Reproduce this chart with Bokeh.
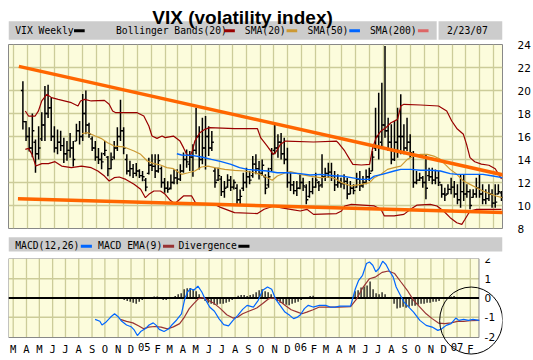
import pandas as pd
from bokeh.plotting import figure
from bokeh.models import Range1d, FixedTicker, ColumnDataSource, Grid
from bokeh.layouts import column
from bokeh.embed import file_html
from bokeh.resources import INLINE
from bokeh.core.properties import value

# ---------------- data ----------------
TITLE = "VIX (volatility index)"
DATE_LABEL = "2/23/07"
axis_origin = "2004-03-01"
first_week = "2004-03-22"

month_labels = ["M", "A", "M", "J", "J", "A", "S", "O", "N", "D", "05", "F",
                "M", "A", "M", "J", "J", "A", "S", "O", "N", "D", "06", "F",
                "M", "A", "M", "J", "J", "A", "S", "O", "N", "D", "07", "F"]
price_ticks = [8, 10, 12, 14, 16, 18, 20, 22, 24]
macd_ticks = [-2, -1, 0, 1, 2]
macd_grid = [-1, 1]

price_legend = ["VIX Weekly", "Bollinger Bands(20)", "SMA(20)", "SMA(50)", "SMA(200)"]
price_legend_colors = ["#000000", "#990000", "#CC9933", "#0066FF", "#DD6666"]
macd_legend = ["MACD(12,26)", "MACD EMA(9)", "Divergence"]
macd_legend_colors = ["#0066FF", "#993333", "#000000"]

highs = [20.8, 17.35, 16.8, 18.0, 15.75, 16.9, 18.1, 20.4, 20.5, 19.4,
         16.9, 16.6, 16.5, 15.9, 15.6, 16.3, 15.6, 17.1, 17.35, 19.7,
         20.0, 17.2, 16.0, 15.6, 15.0, 14.6, 15.6, 14.3, 14.6, 15.6,
         16.8, 19.2, 16.8, 14.45, 13.9, 13.6, 13.7, 13.15, 13.0, 12.4,
         14.15, 14.45, 14.45, 14.45, 13.4, 12.4, 12.1, 12.7, 13.15, 13.15,
         13.58, 14.6, 14.88, 14.74, 15.32, 18.5, 16.9, 17.64, 17.78, 16.9,
         16.48, 13.29, 13.29, 12.56, 12.13, 12.71, 12.56, 12.27, 11.84, 11.4,
         12.85, 13.29, 13.0, 14.3, 14.45, 13.87, 14.01, 12.71, 13.29, 15.0,
         17.06, 16.19, 16.3, 15.9, 15.03, 12.85, 12.13, 12.13, 12.71, 12.42,
         11.84, 12.13, 12.42, 12.85, 12.13, 14.45, 13.29, 13.72, 13.72, 13.0,
         12.71, 12.42, 12.71, 12.42, 12.13, 11.84, 12.85, 13.0, 12.56, 13.14,
         13.29, 14.74, 18.5, 19.81, 20.68, 23.87, 17.64, 17.06, 17.35, 18.5,
         19.67, 17.06, 17.64, 16.19, 14.74, 13.0, 12.85, 12.56, 14.45, 13.29,
         13.29, 13.14, 13.0, 11.84, 11.55, 11.84, 12.42, 12.13, 11.84, 12.71,
         12.71, 11.84, 11.41, 11.41, 12.42, 12.71, 11.84, 11.41, 11.84, 11.41,
         11.84, 11.84, 11.26]
lows = [16.6, 15.6, 14.7, 14.2, 12.85, 14.0, 15.6, 15.6, 17.6, 15.6,
        14.6, 14.45, 14.75, 13.7, 13.9, 14.15, 13.4, 15.6, 15.3, 15.6,
        16.2, 15.9, 14.75, 13.9, 13.6, 13.15, 14.3, 12.55, 13.15, 14.0,
        14.75, 15.6, 14.45, 12.7, 12.55, 12.4, 12.55, 12.4, 12.1, 11.25,
        12.7, 13.0, 12.4, 12.85, 11.55, 11.1, 11.1, 11.4, 11.85, 11.84,
        12.13, 12.85, 13.29, 13.0, 12.5, 14.45, 13.14, 13.58, 13.14, 14.3,
        14.74, 11.55, 12.13, 10.83, 10.68, 11.55, 11.26, 11.4, 9.96, 10.1,
        11.26, 11.55, 11.84, 12.42, 12.71, 12.27, 12.56, 10.97, 11.55, 13.0,
        14.45, 14.16, 14.0, 13.58, 11.55, 11.26, 10.97, 10.83, 11.41, 11.26,
        10.1, 10.68, 10.97, 11.55, 11.26, 11.55, 12.13, 12.42, 12.13, 11.26,
        11.55, 11.55, 11.41, 10.54, 10.97, 10.97, 11.55, 11.26, 11.55, 11.84,
        12.13, 13.0, 14.74, 14.01, 15.03, 15.9, 14.74, 13.58, 13.87, 14.16,
        14.45, 14.45, 14.74, 14.16, 11.55, 11.84, 12.13, 11.55, 10.54, 12.13,
        11.84, 11.84, 11.7, 10.68, 10.39, 10.97, 10.97, 10.68, 10.1, 9.81,
        10.39, 10.68, 9.67, 10.68, 10.68, 10.68, 10.1, 10.1, 10.39, 9.81,
        9.81, 10.97, 10.39]
opens = [20.0, 17.3, 16.0, 15.0, 15.5, 14.5, 15.8, 17.0, 18.0, 18.5,
         16.0, 15.0, 15.5, 15.2, 14.5, 14.8, 15.0, 15.6, 16.5, 16.0,
         18.0, 17.0, 15.8, 15.0, 14.2, 14.0, 14.5, 14.2, 13.2, 14.2,
         15.0, 16.0, 16.5, 14.0, 13.0, 13.2, 12.8, 13.0, 12.6, 12.2,
         12.8, 13.5, 13.4, 13.0, 13.2, 12.0, 11.5, 11.5, 12.0, 12.4,
         12.3, 13.0, 14.0, 13.6, 14.2, 14.8, 16.0, 14.0, 15.0, 16.0,
         15.0, 13.0, 12.2, 12.3, 11.2, 11.6, 12.2, 11.6, 11.5, 10.5,
         11.5, 12.0, 12.5, 12.6, 13.6, 13.2, 12.8, 12.5, 11.8, 13.2,
         14.8, 15.0, 15.5, 14.5, 14.0, 12.0, 11.8, 11.3, 11.5, 12.0,
         11.6, 10.8, 11.2, 11.6, 12.0, 11.8, 12.5, 12.8, 12.9, 12.6,
         11.8, 12.0, 11.9, 12.1, 11.0, 11.5, 11.6, 12.3, 11.7, 12.0,
         12.5, 13.0, 15.0, 16.0, 15.5, 17.0, 16.5, 15.5, 14.0, 15.5,
         16.0, 16.0, 15.0, 15.5, 14.5, 12.0, 12.2, 12.4, 12.0, 12.6,
         12.5, 12.2, 12.4, 11.8, 11.0, 11.0, 11.4, 11.6, 11.0, 10.5,
         11.2, 11.0, 11.2, 10.7, 11.0, 11.5, 11.0, 10.5, 10.6, 11.0,
         10.2, 11.0, 11.1]
closes = [17.3, 16.0, 15.0, 16.5, 14.5, 15.0, 17.0, 18.0, 18.5, 16.0,
          15.0, 15.5, 15.2, 14.5, 14.8, 15.0, 14.0, 16.5, 16.0, 18.0,
          17.0, 16.2, 15.0, 14.2, 14.0, 13.8, 14.8, 13.2, 14.0, 15.0,
          16.0, 16.5, 15.0, 13.0, 13.2, 12.8, 13.0, 12.6, 12.5, 11.6,
          13.5, 13.4, 13.0, 13.9, 12.0, 11.5, 11.4, 12.0, 12.4, 12.3,
          13.0, 14.0, 13.8, 14.2, 14.8, 16.0, 14.0, 15.0, 16.0, 15.0,
          15.5, 12.0, 12.6, 11.2, 11.5, 12.2, 11.6, 12.0, 10.5, 10.8,
          12.0, 12.5, 12.2, 13.6, 13.2, 12.8, 13.5, 11.5, 12.5, 14.5,
          15.0, 15.5, 14.5, 14.0, 12.0, 11.8, 11.3, 11.5, 12.0, 11.7,
          10.5, 11.2, 11.6, 12.2, 11.7, 12.5, 12.8, 12.9, 12.6, 11.8,
          12.0, 11.9, 12.1, 11.0, 11.5, 11.3, 12.3, 11.7, 12.0, 12.5,
          12.8, 14.2, 16.0, 15.0, 17.0, 16.5, 15.5, 14.0, 15.5, 16.0,
          16.0, 15.0, 15.5, 14.6, 12.0, 12.2, 12.4, 12.0, 11.5, 12.5,
          12.2, 12.4, 12.0, 11.0, 10.9, 11.4, 11.6, 11.0, 10.5, 11.2,
          11.0, 11.2, 10.0, 11.0, 11.5, 11.0, 10.5, 10.6, 11.0, 10.2,
          10.3, 11.2, 10.7]

# indicator lines, read at week positions (week 0 = first bar)
bb_up_wk = [0.77, 1.8, 3.9, 4.9, 6.0, 7.6, 9.1, 11.2, 15.4, 17.5, 18.3, 19.6, 21.7, 25.9, 27.4, 28.5,
            29.5, 36.3, 38.4, 40.0, 41.0, 42.6, 44.2, 45.2, 47.8, 49.9, 51.0, 52.0, 53.1, 53.8, 54.6,
            56.2, 57.8, 59.3, 67.2, 74.5, 75.5, 77.6, 79.5, 80.2, 81.8, 83.4, 92.3, 99.6, 100.1, 102.2,
            103.8, 104.8, 107.5, 110.1, 111.1, 112.2, 113.7, 115.3, 116.9, 119.0, 120.0, 121.0, 126.3,
            132.0, 134.6, 136.2, 137.8, 139.9, 140.9, 142.0, 143.5, 145.6, 148.0, 150.0, 152.0]
bb_up_val = [18.22, 17.78, 17.78, 18.20, 19.10, 19.67, 19.38, 19.23, 18.94, 18.65, 19.09, 19.23, 19.09,
             19.14, 18.80, 18.22, 18.07, 18.07, 17.78, 16.91, 16.04, 15.84, 16.04, 15.90, 16.04, 15.60,
             15.03, 14.45, 14.30, 14.74, 15.60, 16.33, 16.62, 16.77, 16.68, 16.68, 15.90, 15.17, 14.45,
             14.59, 15.32, 15.60, 15.52, 15.60, 15.46, 14.74, 14.01, 13.58, 13.52, 13.58, 15.03, 15.90,
             16.48, 16.77, 17.20, 17.49, 18.65, 18.80, 18.74, 18.65, 18.22, 17.35, 16.70, 16.19, 15.32,
             14.16, 13.80, 13.60, 13.50, 13.20, 12.30]
bb_lo_wk = [0.77, 1.8, 2.9, 4.1, 6.0, 8.1, 10.2, 12.3, 15.4, 18.6, 21.7, 23.8, 25.9, 27.4, 29.0, 30.6,
            32.7, 35.3, 37.4, 38.9, 40.0, 41.6, 43.7, 45.2, 46.8, 47.8, 48.4, 51.0, 53.6, 55.1, 60.9,
            63.0, 67.2, 74.5, 76.6, 79.7, 81.8, 85.0, 88.1, 90.2, 92.3, 99.6, 101.2, 102.2, 104.3, 111.6,
            113.7, 114.8, 117.9, 121.0, 123.1, 125.2, 129.4, 131.5, 133.6, 135.7, 137.8, 139.4, 140.4,
            142.0, 144.1, 152.0]
bb_lo_val = [14.88, 14.97, 14.45, 13.43, 13.64, 13.64, 13.81, 13.43, 13.29, 13.43, 13.29, 13.00, 12.56,
             12.13, 12.42, 12.48, 12.27, 11.84, 11.41, 10.68, 10.97, 11.26, 11.26, 10.97, 10.45, 10.25,
             10.20, 10.83, 10.83, 10.10, 10.10, 9.81, 9.38, 9.30, 9.67, 9.96, 9.81, 9.67, 9.52, 9.67,
             9.23, 9.30, 9.52, 9.96, 10.10, 9.96, 9.67, 9.09, 9.09, 9.23, 9.67, 10.04, 10.10, 9.96, 9.52,
             8.94, 8.50, 8.36, 8.80, 9.52, 9.67, 9.67]
sma20_wk = [18.8, 20.6, 23.0, 24.8, 26.9, 29.0, 32.1, 35.3, 37.4, 39.5, 41.6, 43.7, 45.7, 47.8, 50.4,
            52.5, 54.6, 56.7, 58.8, 60.9, 64.1, 67.2, 70.3, 73.5, 75.5, 77.6, 79.2, 80.8, 83.4, 85.0,
            88.1, 91.2, 94.4, 97.5, 99.6, 101.2, 104.3, 107.5, 110.1, 111.6, 113.7, 115.8, 117.9, 120.0,
            122.1, 124.2, 126.3, 128.4, 130.5, 132.6, 134.1, 135.7, 137.8, 139.9, 142.0, 144.1, 146.1,
            148.2, 150.3, 152.2]
sma20_val = [16.25, 16.33, 16.04, 15.84, 15.46, 15.17, 15.09, 14.74, 14.45, 13.87, 13.64, 13.52, 13.29,
             13.20, 12.71, 12.85, 13.00, 13.35, 13.43, 13.29, 13.14, 13.06, 13.00, 12.85, 12.71, 12.42,
             12.19, 12.56, 12.85, 12.94, 12.71, 12.56, 12.42, 12.48, 12.27, 11.99, 11.70, 11.84, 11.99,
             12.42, 12.71, 13.14, 13.29, 13.43, 14.01, 14.30, 14.45, 14.45, 14.30, 14.01, 13.58, 13.14,
             12.71, 12.13, 11.84, 11.55, 11.26, 11.03, 10.83, 10.68]
sma50_wk = [48.9, 50.4, 53.6, 56.7, 59.9, 63.0, 66.1, 68.8, 71.3, 74.5, 77.6, 80.8, 83.9, 88.1, 91.2,
            94.4, 99.6, 101.2, 104.3, 107.5, 110.1, 111.6, 114.1, 117.9, 120.0, 123.1, 126.3, 129.4,
            132.6, 135.7, 137.8, 146.1, 149.3, 152.2]
sma50_val = [14.50, 14.39, 14.36, 14.22, 14.01, 13.81, 13.58, 13.29, 13.14, 13.06, 13.00, 12.85, 12.85,
             12.77, 12.65, 12.71, 12.56, 12.56, 12.42, 12.27, 12.27, 12.56, 12.71, 13.00, 13.14, 13.14,
             13.06, 13.06, 13.00, 12.77, 12.71, 12.71, 12.56, 12.42]

# hand-drawn trendlines (dates, values)
trend_hi_dates = ["2004-03-13", "2007-03-03"]
trend_hi_vals = [22.1, 12.59]
trend_lo_dates = ["2004-03-11", "2007-03-04"]
trend_lo_vals = [10.59, 9.37]

macd_wk = [24.3, 25.9, 26.6, 28.0, 29.5, 30.8, 32.1, 33.2, 34.8, 36.3, 37.4, 38.4, 39.5, 41.0, 42.3,
           43.7, 44.7, 45.7, 47.3, 48.9, 49.9, 51.5, 53.1, 54.1, 55.1, 56.2, 57.2, 58.6, 59.9, 60.9,
           62.5, 64.1, 65.6, 67.2, 68.8, 70.3, 71.9, 73.5, 75.0, 77.1, 78.7, 80.2, 81.8, 83.2, 84.4,
           86.0, 87.6, 89.2, 90.5, 91.8, 92.8, 94.1, 95.4, 97.0, 99.1, 101.2, 102.7, 104.3, 105.9,
           109.5, 111.1, 112.2, 113.5, 114.8, 115.8, 116.9, 117.9, 119.0, 120.2, 121.3, 122.3, 123.7,
           124.7, 126.1, 127.3, 128.9, 130.5, 132.6, 134.7, 136.7, 138.6, 139.9, 141.4, 143.0, 144.6,
           145.6, 147.2, 148.8, 150.3, 152.4]
macd_val = [-1.11, -1.21, -1.40, -1.24, -0.99, -0.82, -0.99, -1.21, -1.40, -1.49, -1.67, -1.95, -1.74,
            -1.60, -1.40, -1.29, -1.42, -1.63, -1.74, -1.60, -1.40, -1.14, -0.82, -0.12, 0.31, 0.48,
            0.40, 0.62, 0.31, -0.03, -0.47, -0.69, -1.07, -1.38, -1.45, -1.16, -0.90, -0.59, -0.38,
            -0.47, -0.12, 0.40, 0.57, 0.45, -0.03, -0.38, -0.73, -0.90, -1.07, -0.99, -0.87, -0.55,
            -0.38, -0.47, -0.38, -0.38, -0.47, -0.47, -0.42, -0.42, 0.48, 0.92, 1.18, 1.79, 1.87, 1.70,
            1.36, 1.53, 1.91, 1.74, 1.44, 1.10, 0.57, 0.14, -0.21, -0.47, -0.73, -1.16, -1.42, -1.51,
            -1.68, -1.60, -1.42, -1.33, -1.04, -1.16, -1.11, -1.16, -1.11, -1.16]
sig_wk = [32.7, 34.8, 36.9, 38.9, 40.5, 42.1, 44.2, 46.3, 48.4, 50.4, 52.5, 54.1, 55.7, 57.2, 58.8,
          60.4, 62.0, 64.1, 66.1, 68.2, 70.3, 71.9, 73.5, 75.5, 78.2, 80.2, 82.3, 83.9, 85.5, 87.6,
          89.7, 91.8, 93.3, 94.9, 97.0, 99.1, 102.2, 105.4, 109.5, 111.6, 113.7, 115.8, 117.9, 120.0,
          122.1, 124.2, 126.3, 128.4, 130.5, 132.6, 134.7, 136.7, 138.8, 140.9, 143.0, 145.1, 147.2,
          149.3, 152.4]
sig_val = [-1.11, -1.21, -1.29, -1.45, -1.60, -1.51, -1.48, -1.51, -1.60, -1.50, -1.33, -0.99, -0.55,
           -0.29, -0.03, 0.02, -0.12, -0.29, -0.55, -0.87, -1.04, -0.99, -0.82, -0.69, -0.52, -0.29,
           -0.03, 0.00, -0.12, -0.38, -0.61, -0.73, -0.82, -0.73, -0.61, -0.47, -0.47, -0.47, -0.45,
           -0.03, 0.57, 1.00, 1.10, 1.33, 1.40, 1.27, 0.83, 0.40, -0.12, -0.47, -0.82, -1.07, -1.30,
           -1.33, -1.29, -1.21, -1.21, -1.18, -1.16]
hist_first_week = 33
hist_val = [-0.05, -0.10, -0.15, -0.20, -0.25, -0.30, -0.20, -0.10, -0.05, -0.05,
            0.05, 0.08, 0.08,
            -0.05, -0.10, -0.10, -0.05, -0.02,
            0.10, 0.20, 0.25, 0.45, 0.50, 0.52, 0.45, 0.35, 0.20, 0.05,
            -0.15, -0.25, -0.30, -0.35, -0.35, -0.30, -0.30, -0.25, -0.20, -0.10,
            0.05, 0.12, 0.15, 0.15, 0.10,
            0.15, 0.20, 0.30, 0.40, 0.45, 0.35, 0.30, 0.20, 0.05,
            -0.15, -0.25, -0.30, -0.35, -0.38, -0.30, -0.25, -0.20, -0.10, -0.05,
            0.05, 0.10, 0.12,
            0.05, 0.05, 0.03, 0.02, 0.02, 0.02, 0.00, 0.00, 0.02, 0.02, 0.03, 0.03,
            0.05, 0.35, 0.40, 0.55, 0.60, 0.65, 0.85, 0.45, 0.25, 0.20, 0.30, 0.20, 0.05, 0.00,
            -0.30, -0.55, -0.50, -0.45, -0.50, -0.45, -0.40, -0.40, -0.35, -0.30, -0.30, -0.25,
            -0.25, -0.20, -0.20, -0.15,
            -0.05, 0.00, 0.05, 0.08, 0.10, 0.05, 0.03, 0.05, 0.02, 0.04, 0.03, 0.02, 0.00]

# hand-drawn circle note on the MACD panel (centre date, centre value, radius in px)
note_date = "2007-02-03"
note_value = -1.17
note_radius_px = 33.5

# ---------------- helpers ----------------
origin = pd.Timestamp(axis_origin)
week0 = (pd.Timestamp(first_week) - origin).days


def wday(weeks):
    return [week0 + 7.0 * float(w) for w in weeks]


def dday(dates):
    return [(pd.Timestamp(d) - origin).days for d in dates]


month_starts = pd.date_range(axis_origin, periods=len(month_labels), freq="MS")
tick_days = [int((m - origin).days) for m in month_starts]

MONO = "DejaVu Sans Mono"
GRID = "#CCCC99"
FRAME_BG = "#FCFCDC"
OUTLINE = "#888888"
BAR_GRAY = "#CCCCCC"
W = 533
X_START, X_END = -11.0, 1087.2          # visible date span of both panels
XR = Range1d(X_START, X_END)
PX_PER_DAY = 500.0 / (X_END - X_START)   # panel is 500 px wide


def strip(fig):
    fig.grid.visible = False
    fig.outline_line_color = None
    fig.background_fill_color = "white"
    fig.border_fill_color = "white"


# ---------------- header (title + legend bar) ----------------
h1 = figure(width=W, height=40, x_range=Range1d(0, W), y_range=Range1d(0, 40), title=None,
            output_backend="svg", toolbar_location=None, min_border=0,
            x_axis_location=None, y_axis_location=None)
strip(h1)
h1.quad(left=[0], right=[462], bottom=[0.7], top=[19.3], fill_color=BAR_GRAY, line_color=None)
h1.quad(left=[464], right=[W], bottom=[0.7], top=[19.3], fill_color=BAR_GRAY, line_color=None)
h1.text(x=[252.5], y=[23.5], text=[TITLE], text_font=value("Liberation Sans"), text_font_style="bold",
        text_font_size="19px", text_align="center", text_baseline="alphabetic", text_color="black")
leg_x = [7.3, 116, 255, 322.7, 390]
sw_x = [70.7, 232.7, 300, 367.7, 441.7]
h1.text(x=leg_x, y=[10.3] * 5, text=price_legend, text_font=value(MONO), text_font_size="9.7px",
        text_align="left", text_baseline="middle", text_color="black")
h1.quad(left=sw_x, right=[s + 11.5 for s in sw_x], bottom=[8.3] * 5, top=[11.2] * 5,
        fill_color=price_legend_colors, line_color=None)
h1.text(x=[473], y=[10.3], text=[DATE_LABEL], text_font=value(MONO), text_font_size="9.7px",
        text_align="left", text_baseline="middle", text_color="black")

# ---------------- price panel ----------------
pf = figure(width=W, height=196, x_range=XR, y_range=Range1d(8, 24), title=None,
            output_backend="svg", toolbar_location=None,
            x_axis_location=None, y_axis_location="right",
            min_border_left=8, min_border_right=25, min_border_top=4, min_border_bottom=8)
pf.grid.visible = False
pf.background_fill_color = FRAME_BG
pf.border_fill_color = "white"
pf.outline_line_color = OUTLINE
pf.add_layout(Grid(dimension=0, ticker=FixedTicker(ticks=tick_days), grid_line_color=GRID,
                   grid_line_width=1.3))
pf.add_layout(Grid(dimension=1, ticker=FixedTicker(ticks=price_ticks), grid_line_color=GRID,
                   grid_line_width=1.3))
ax = pf.yaxis[0]
ax.ticker = FixedTicker(ticks=price_ticks)
ax.axis_line_color = None
ax.major_tick_line_color = None
ax.minor_tick_line_color = None
ax.major_label_standoff = 9
ax.major_label_text_font = "DejaVu Sans"
ax.major_label_text_font_size = "10.5px"
ax.major_label_text_color = "black"

bx = wday(range(len(highs)))
src = ColumnDataSource(dict(x=bx, xl=[v - 4.5 for v in bx], xr=[v + 4.5 for v in bx],
                            h=highs, l=lows, o=opens, c=closes))
pf.segment(x0="x", y0="l", x1="x", y1="h", source=src, line_color="black", line_width=1.5)
pf.segment(x0="xl", y0="o", x1="x", y1="o", source=src, line_color="black", line_width=1.3)
pf.segment(x0="x", y0="c", x1="xr", y1="c", source=src, line_color="black", line_width=1.3)

pf.line(wday(bb_up_wk), bb_up_val, line_color="#990000", line_width=1.2)
pf.line(wday(bb_lo_wk), bb_lo_val, line_color="#990000", line_width=1.2)
pf.line(wday(sma20_wk), sma20_val, line_color="#CC9933", line_width=1.2)
pf.line(wday(sma50_wk), sma50_val, line_color="#0066FF", line_width=1.4)
pf.line(dday(trend_hi_dates), trend_hi_vals, line_color="#FF6600", line_width=3.5)
pf.line(dday(trend_lo_dates), trend_lo_vals, line_color="#FF6600", line_width=3.5)

# ---------------- MACD legend bar ----------------
h2 = figure(width=W, height=18, x_range=Range1d(0, W), y_range=Range1d(0, 18), title=None,
            output_backend="svg", toolbar_location=None, min_border=0,
            x_axis_location=None, y_axis_location=None)
strip(h2)
h2.quad(left=[0], right=[W], bottom=[3], top=[17.3], fill_color=BAR_GRAY, line_color=None)
m_leg_x = [7.3, 96.7, 183.3]
m_sw_x = [78, 166.7, 248]
h2.text(x=m_leg_x, y=[8.6] * 3, text=macd_legend, text_font=value(MONO), text_font_size="9.7px",
        text_align="left", text_baseline="middle", text_color="black")
h2.quad(left=m_sw_x, right=[s + 12 for s in m_sw_x], bottom=[6.8] * 3, top=[9.8] * 3,
        fill_color=macd_legend_colors, line_color=None)

# ---------------- MACD panel ----------------
# The frame covers the whole lower area so that the hand-drawn circle can run
# past the panel into the label margins, as in the original chart.
M_TOP, M_BOT = 2.05, -2.05                       # panel value span
PX_PER_UNIT = 79.0 / (M_TOP - M_BOT)            # panel is 79 px tall
MXR = Range1d(X_START, X_START + 525.0 / PX_PER_DAY)
MYR = Range1d(M_TOP - 102.0 / PX_PER_UNIT, M_TOP)
mf = figure(width=W, height=106, x_range=MXR, y_range=MYR, title=None,
            output_backend="svg", toolbar_location=None,
            x_axis_location=None, y_axis_location=None,
            min_border_left=8, min_border_right=0, min_border_top=4, min_border_bottom=0)
strip(mf)
mf.quad(left=[X_START], right=[X_END], bottom=[M_BOT], top=[M_TOP], fill_color=FRAME_BG,
        line_color=None)
mf.segment(x0=tick_days, y0=[M_BOT] * len(tick_days), x1=tick_days, y1=[M_TOP] * len(tick_days),
           line_color=GRID, line_width=1.3)
mf.segment(x0=[X_START] * len(macd_grid), y0=macd_grid, x1=[X_END] * len(macd_grid), y1=macd_grid,
           line_color=GRID, line_width=1.3)
mf.quad(left=[X_START], right=[X_END], bottom=[M_BOT], top=[M_TOP], fill_alpha=0,
        line_color=OUTLINE, line_width=1)

hx = wday(range(hist_first_week, hist_first_week + len(hist_val)))
mf.segment(x0=hx, y0=[0] * len(hx), x1=hx, y1=hist_val, line_color="black", line_width=1.2)
mf.segment(x0=[X_START], y0=[0], x1=[X_END], y1=[0], line_color="black", line_width=2)
mf.line(wday(sig_wk), sig_val, line_color="#993333", line_width=1.2)
mf.line(wday(macd_wk), macd_val, line_color="#0066FF", line_width=1.2)

# value labels on the right of the panel
lab_x = X_END + 6.0 / PX_PER_DAY
mf.text(x=[lab_x] * len(macd_ticks), y=macd_ticks, text=[str(t) for t in macd_ticks],
        text_font=value("DejaVu Sans"), text_font_size="10.5px", text_align="left",
        text_baseline="middle", text_color="black")
# month labels under the panel
mf.text(x=tick_days, y=[M_BOT - 5.0 / PX_PER_UNIT] * len(tick_days), text=month_labels,
        text_font=value(MONO), text_font_size="10.5px", text_align="center",
        text_baseline="top", text_color="black")

# the circle note
rx = note_radius_px / PX_PER_DAY
ry = note_radius_px / PX_PER_UNIT
mf.ellipse(x=dday([note_date]), y=[note_value], width=[2 * rx], height=[2 * ry],
           fill_alpha=0, line_color="black", line_width=1)

layout = column(h1, pf, h2, mf, spacing=0)
open("out.html", "w").write(file_html(layout, INLINE))
